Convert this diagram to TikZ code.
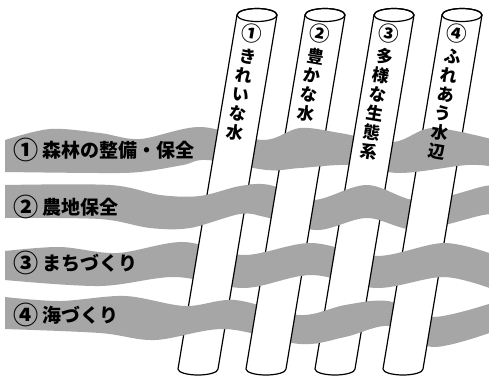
\documentclass[tikz,border=0pt]{standalone}
\usepackage{fontspec}
\newfontfamily\jp{Noto Sans CJK JP}
\definecolor{bandgray}{gray}{0.65}
\tikzset{
  bandfill/.style={fill=bandgray},
  pillarbody/.style={fill=white,draw=black,line width=1.2pt,line join=round},
  pillarline/.style={draw=black,line width=1.2pt},
  ptext/.style={font=\jp\bfseries\fontsize{17}{19.4}\selectfont,align=center,inner sep=0pt,rotate=-9.5,anchor=north},
  btext/.style={font=\jp\bfseries\fontsize{19}{21}\selectfont,inner sep=0pt,anchor=west}
}
\newcommand{\cnum}[1]{\raisebox{-1.6pt}{\scalebox{1.32}{#1}}}
\newcommand{\pnum}[1]{\scalebox{1.2}{#1}}
\newcommand{\bandA}{\fill[bandfill] plot[smooth,tension=0.55] coordinates {(5,140) (50,129) (100,133) (140,139) (200,127) (263,140) (300,128) (340,133) (393,142) (433,128) (495,140)} -- plot[smooth,tension=0.55] coordinates {(495,167) (467,165) (400,173) (350,165) (300,168) (267,170) (207,160) (183,165) (140,172) (100,173) (5,172)} -- cycle;}
\newcommand{\bandB}{\fill[bandfill] plot[smooth,tension=0.55] coordinates {(5,185) (110,185) (160,195) (200,196) (240,186) (270,185) (313,200) (367,185) (420,201) (485,186) (495,187)} -- plot[smooth,tension=0.55] coordinates {(495,216) (483,215) (417,230) (367,218) (317,230) (265,217) (240,214) (190,228) (150,228) (100,219) (5,218)} -- cycle;}
\newcommand{\bandC}{\fill[bandfill] plot[smooth,tension=0.55] coordinates {(5,251) (60,247) (117,253) (183,242) (244,255) (311,243) (377,256) (444,243) (495,255)} -- plot[smooth,tension=0.55] coordinates {(495,290) (444,277) (377,288) (311,275) (244,288) (175,277) (100,286) (5,280)} -- cycle;}
\newcommand{\bandD}{\fill[bandfill] plot[smooth,tension=0.55] coordinates {(5,297) (60,301) (125,296) (185,306) (235,300) (300,315) (345,305) (388,301) (433,317) (495,302)} -- plot[smooth,tension=0.55] coordinates {(495,331) (433,347) (390,326) (345,337) (300,344) (225,329) (155,340) (100,333) (5,329)} -- cycle;}
\newcommand{\pillar}[2]{%
  \filldraw[pillarbody] (#1-20,15) -- (#2-20,369) arc[start angle=180,end angle=0,x radius=20,y radius=6] -- (#1+20,15) arc[start angle=0,end angle=-180,x radius=20,y radius=6.5] -- cycle;
  \draw[pillarline] (#1,15) ellipse[x radius=20,y radius=6.5];}
\newcommand{\clipslab}[2]{\clip (#1-19.7,-5) -- (#1+26.3,-5) -- (#2+20.3,385) -- (#2-25.7,385) -- cycle;}
\begin{document}
\begin{tikzpicture}[x=1pt,y=-1pt]
\useasboundingbox (0,0) rectangle (489,378);
\fill[white] (0,0) rectangle (489,378);
\begin{scope}
\clip (0,0) rectangle (489,378);
% bands (under layer)
\bandA \bandB \bandC \bandD
% pillars
\pillar{257}{198}
\pillar{325}{266}
\pillar{394}{335}
\pillar{462}{403}
% bands passing over pillars
\begin{scope}\clipslab{325}{266}\bandA \bandC\end{scope}
\begin{scope}\clipslab{462}{403}\bandA \bandC\end{scope}
\begin{scope}\clipslab{257}{198}\bandB \bandD\end{scope}
\begin{scope}\clipslab{394}{335}\bandB \bandD\end{scope}
\end{scope}
% pillar labels
\node[ptext] (p1) at (253,24) {\pnum{①}\\[2pt]き\\れ\\い\\な\\水};
\node[ptext] (p2) at (321,24) {\pnum{②}\\[2pt]豊\\か\\な\\水};
\node[ptext] (p3) at (390,24) {\pnum{③}\\[2pt]多\\様\\な\\生\\態\\系};
\node[ptext] (p4) at (458,24) {\pnum{④}\\[2pt]ふ\\れ\\あ\\う\\水\\辺};
% band labels
\node[btext] (b1) at (13,150) {\cnum{①}\hspace{4pt}森林の整備・保全};
\node[btext] (b2) at (13,207) {\cnum{②}\hspace{4pt}農地保全};
\node[btext] (b3) at (13,263) {\cnum{③}\hspace{4pt}まちづくり};
\node[btext] (b4) at (13,315) {\cnum{④}\hspace{4pt}海づくり};
\end{tikzpicture}
\end{document}
